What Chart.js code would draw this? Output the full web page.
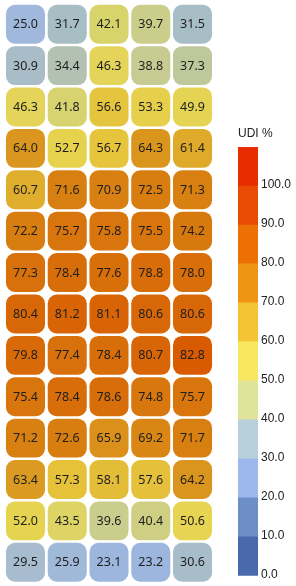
<!DOCTYPE html>
<html>
<head>
<meta charset="utf-8">
<script src="https://cdn.jsdelivr.net/npm/chart.js@4/dist/chart.umd.min.js"></script>
<style>
  html, body { margin: 0; padding: 0; background: #fff; }
  #wrap { position: relative; width: 296px; height: 586px; }
  #heat { position: absolute; left: 0; top: 0; }
  #bar { position: absolute; left: 226px; top: 120px; }
</style>
</head>
<body>
<div id="wrap">
  <canvas id="heat" width="218" height="586"></canvas>
  <canvas id="bar" width="70" height="466"></canvas>
</div>
<script>
// =========================
// DATA
// =========================
const COLS = ['1', '2', '3', '4', '5'];

// UDI % por fila (de arriba hacia abajo)
const fila01 = [25.0, 31.7, 42.1, 39.7, 31.5];
const fila02 = [30.9, 34.4, 46.3, 38.8, 37.3];
const fila03 = [46.3, 41.8, 56.6, 53.3, 49.9];
const fila04 = [64.0, 52.7, 56.7, 64.3, 61.4];
const fila05 = [60.7, 71.6, 70.9, 72.5, 71.3];
const fila06 = [72.2, 75.7, 75.8, 75.5, 74.2];
const fila07 = [77.3, 78.4, 77.6, 78.8, 78.0];
const fila08 = [80.4, 81.2, 81.1, 80.6, 80.6];
const fila09 = [79.8, 77.4, 78.4, 80.7, 82.8];
const fila10 = [75.4, 78.4, 78.6, 74.8, 75.7];
const fila11 = [71.2, 72.6, 65.9, 69.2, 71.7];
const fila12 = [63.4, 57.3, 58.1, 57.6, 64.2];
const fila13 = [52.0, 43.5, 39.6, 40.4, 50.6];
const fila14 = [29.5, 25.9, 23.1, 23.2, 30.6];
const FILAS = [fila01, fila02, fila03, fila04, fila05, fila06, fila07,
               fila08, fila09, fila10, fila11, fila12, fila13, fila14];

// Escala de color (barra lateral)
const binLimites = [0, 10, 20, 30, 40, 50, 60, 70, 80, 90, 100, 110];
const tickValores = [0, 10, 20, 30, 40, 50, 60, 70, 80, 90, 100];

// =========================
// Colores
// =========================
const binColores = ['#4a68ac', '#6e8ec8', '#9cb8ec', '#b8d0dc', '#e0e49a', '#f8e860',
                    '#f5c434', '#ef9414', '#ec7004', '#e84c04', '#e82c00'];

// paleta continua de las celdas (valor -> color)
const celdaStops = [
  [20, '#98b3e2'], [25, '#a0b8dc'], [30, '#a8bccc'], [32, '#a8bec4'],
  [35, '#b4c2ac'], [40, '#ccce88'], [42, '#d8d46c'], [46, '#e4d45a'],
  [52, '#e6d450'], [57, '#e6c43c'], [61, '#e0ac2c'], [64, '#da961e'],
  [72, '#d87e10'], [80, '#d86a08'], [83, '#d85a02'], [100, '#d84000']
];

function hex2rgb(h) {
  return [1, 3, 5].map(i => parseInt(h.substr(i, 2), 16));
}
function colorCelda(v) {
  if (v <= celdaStops[0][0]) return celdaStops[0][1];
  for (let i = 1; i < celdaStops.length; i++) {
    const [v1, c1] = celdaStops[i];
    const [v0, c0] = celdaStops[i - 1];
    if (v <= v1) {
      const t = (v - v0) / (v1 - v0);
      const a = hex2rgb(c0), b = hex2rgb(c1);
      const m = a.map((x, k) => Math.round(x + (b[k] - x) * t));
      return `rgb(${m[0]},${m[1]},${m[2]})`;
    }
  }
  return celdaStops[celdaStops.length - 1][1];
}

// =========================
// Heatmap (barras flotantes)
// =========================
const GAP = 0.03;
const heatDatasets = FILAS.map((fila, r) => ({
  label: 'fila ' + (r + 1),
  data: fila.map(() => [r + GAP, r + 1 - GAP]),
  valores: fila,
  backgroundColor: fila.map(colorCelda),
  borderRadius: 9,
  borderSkipped: false,
  borderWidth: 0,
  grouped: false,
  barPercentage: 0.935,
  categoryPercentage: 1
}));

const etiquetasCeldas = {
  id: 'etiquetasCeldas',
  afterDatasetsDraw(chart) {
    const ctx = chart.ctx;
    ctx.save();
    ctx.font = '12.5px "Noto Sans", "Open Sans", sans-serif';
    ctx.fillStyle = '#1e1e1e';
    ctx.textAlign = 'center';
    ctx.textBaseline = 'middle';
    chart.data.datasets.forEach((ds, i) => {
      chart.getDatasetMeta(i).data.forEach((el, j) => {
        const p = el.getCenterPoint();
        ctx.fillText(ds.valores[j].toFixed(1), p.x, p.y + 0.5);
      });
    });
    ctx.restore();
  }
};

new Chart(document.getElementById('heat'), {
  type: 'bar',
  data: { labels: COLS, datasets: heatDatasets },
  options: {
    responsive: false,
    animation: false,
    layout: { padding: { left: 4.6, right: 4.6, top: 3.5, bottom: 3 } },
    scales: {
      x: { display: false },
      y: { display: false, min: 0, max: FILAS.length, reverse: true }
    },
    plugins: { legend: { display: false }, tooltip: { enabled: false } }
  },
  plugins: [etiquetasCeldas]
});

// =========================
// Barra de color
// =========================
const barDatasets = binColores.map((c, i) => ({
  label: binLimites[i] + '-' + binLimites[i + 1],
  data: [binLimites[i + 1] - binLimites[i]],
  backgroundColor: c,
  borderWidth: 0,
  barPercentage: 1,
  categoryPercentage: 1
}));

new Chart(document.getElementById('bar'), {
  type: 'bar',
  data: { labels: [''], datasets: barDatasets },
  options: {
    responsive: false,
    animation: false,
    layout: { padding: { left: 12, right: 0, top: 0, bottom: 5 } },
    scales: {
      x: { display: false, stacked: true },
      y: {
        stacked: true,
        position: 'right',
        min: 0,
        max: 110,
        afterFit: s => { s.width = 38; },
        afterBuildTicks: s => { s.ticks = tickValores.map(v => ({ value: v })); },
        grid: { display: false, drawTicks: false },
        border: { display: false },
        ticks: {
          padding: 3,
          labelOffset: -1,
          color: '#222',
          font: { family: '"Liberation Sans", Arial, sans-serif', size: 12 },
          callback: v => Number(v).toFixed(1)
        }
      }
    },
    plugins: {
      legend: { display: false },
      tooltip: { enabled: false },
      title: {
        display: true,
        text: 'UDI %',
        align: 'start',
        color: '#222',
        font: { family: '"Liberation Sans", Arial, sans-serif', size: 12, weight: 'normal' },
        padding: { top: 6, bottom: 6.6 }
      }
    }
  }
});
</script>
</body>
</html>
